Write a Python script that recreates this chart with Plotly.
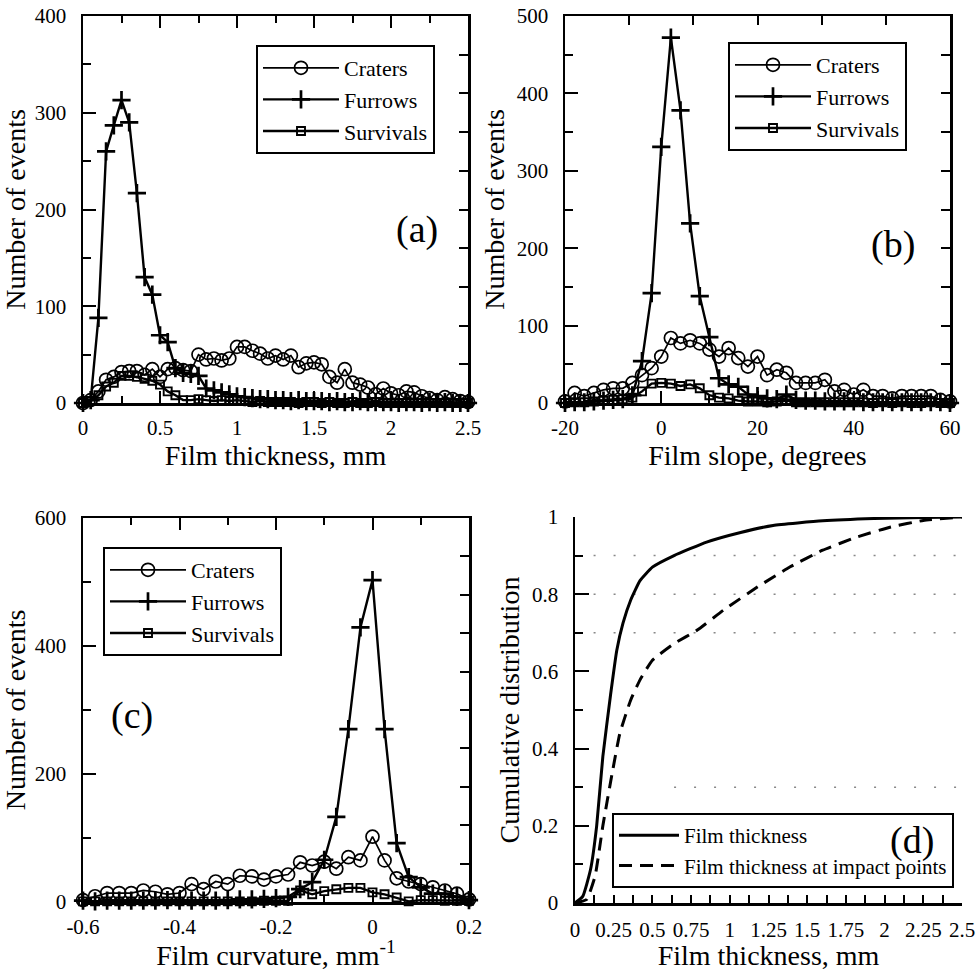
import plotly.graph_objects as go

# ---------------- data ----------------
thickness = [0, 0.05, 0.1, 0.15, 0.2, 0.25, 0.3, 0.35, 0.4, 0.45,
             0.5, 0.55, 0.6, 0.65, 0.7, 0.75, 0.8, 0.85, 0.9, 0.95,
             1.0, 1.05, 1.1, 1.15, 1.2, 1.25, 1.3, 1.35, 1.4, 1.45,
             1.5, 1.55, 1.6, 1.65, 1.7, 1.75, 1.8, 1.85, 1.9, 1.95,
             2.0, 2.05, 2.1, 2.15, 2.2, 2.25, 2.3, 2.35, 2.4, 2.45, 2.5]
craters_a = [0, 3, 12, 24, 27, 32, 33, 33, 29, 35,
             27, 35, 36, 34, 33, 50, 45, 46, 44, 46,
             58, 58, 54, 51, 46, 49, 45, 49, 37, 41,
             42, 40, 27, 21, 35, 21, 19, 16, 9, 15,
             10, 8, 12, 11, 7, 5, 3, 6, 4, 2, 1]
furrows_a = [0, 3, 88, 260, 287, 313, 290, 217, 130, 112,
             70, 63, 36, 31, 30, 28, 15, 13, 11, 9,
             7, 6, 5, 4, 4, 3, 3, 2, 3, 2,
             2, 2, 1, 2, 1, 1, 2, 1, 1, 1,
             1, 0, 1, 1, 0, 1, 0, 1, 0, 0, 0]
survivals_a = [0, 2, 8, 17, 21, 28, 28, 27, 25, 23,
               19, 12, 8, 3, 3, 4, 3, 2, 3, 2,
               3, 2, 1, 2, 1, 1, 1, 1, 0, 1,
               1, 0, 1, 0, 0, 1, 0, 0, 1, 0,
               0, 0, 0, 0, 0, 0, 0, 0, 0, 0, 0]

slope = [-20, -18, -16, -14, -12, -10, -8, -6, -4, -2,
         0, 2, 4, 6, 8, 10, 12, 14, 16, 18,
         20, 22, 24, 26, 28, 30, 32, 34, 36, 38,
         40, 42, 44, 46, 48, 50, 52, 54, 56, 58, 60]
craters_b = [2, 13, 9, 13, 17, 19, 19, 26, 36, 45,
             60, 84, 77, 81, 77, 69, 60, 71, 58, 47,
             60, 36, 43, 39, 26, 26, 26, 30, 15, 17,
             11, 17, 9, 9, 6, 9, 9, 9, 9, 4, 2]
furrows_b = [0, 1, 1, 2, 3, 4, 5, 10, 54, 142,
             331, 472, 378, 232, 138, 85, 32, 24, 21, 11,
             9, 6, 5, 11, 4, 3, 3, 2, 2, 2,
             2, 1, 1, 1, 1, 1, 1, 1, 1, 1, 0]
survivals_b = [0, 1, 1, 2, 3, 4, 5, 7, 15, 25,
               26, 25, 22, 24, 19, 10, 7, 6, 3, 2,
               2, 1, 2, 3, 1, 1, 1, 1, 1, 1,
               1, 1, 0, 1, 0, 1, 0, 0, 1, 0, 0]

curvature = [-0.6, -0.575, -0.55, -0.525, -0.5, -0.475, -0.45, -0.425, -0.4, -0.375,
             -0.35, -0.325, -0.3, -0.275, -0.25, -0.225, -0.2, -0.175, -0.15, -0.125,
             -0.1, -0.075, -0.05, -0.025, 0, 0.025, 0.05, 0.075, 0.1, 0.125,
             0.15, 0.175, 0.2]
craters_c = [3, 9, 14, 14, 14, 18, 16, 12, 14, 28,
             20, 32, 28, 41, 40, 35, 40, 43, 62, 57,
             63, 52, 70, 65, 102, 65, 37, 32, 28, 23,
             18, 13, 4]
furrows_c = [2, 1, 2, 2, 2, 2, 2, 3, 2, 2,
             2, 2, 3, 4, 4, 5, 6, 8, 20, 31,
             66, 133, 270, 429, 503, 270, 92, 39, 23, 13,
             13, 8, 3]
survivals_c = [1, 1, 1, 1, 1, 1, 1, 1, 1, 1,
               1, 1, 1, 1, 1, 2, 2, 2, 18, 12,
               17, 20, 22, 22, 15, 12, 7, 1, 3, 3,
               2, 2, 2]

cdf_x = [0, 0.05, 0.1, 0.14, 0.18, 0.23, 0.27, 0.31, 0.36, 0.42,
         0.5, 0.64, 0.85, 1.07, 1.28, 1.6, 1.93, 2.25, 2.5]
cdf_film = [0, 0.017, 0.086, 0.2, 0.38, 0.54, 0.655, 0.725, 0.785, 0.835,
            0.87, 0.90, 0.935, 0.96, 0.978, 0.99, 0.996, 0.999, 1.0]
cdf_impact_x = [0, 0.075, 0.13, 0.18, 0.24, 0.29, 0.36, 0.42, 0.5, 0.64,
                0.79, 0.96, 1.18, 1.39, 1.6, 1.82, 2.04, 2.25, 2.5]
cdf_impact = [0, 0.009, 0.07, 0.2, 0.336, 0.44, 0.526, 0.578, 0.629, 0.672,
              0.707, 0.759, 0.819, 0.871, 0.914, 0.948, 0.974, 0.991, 1.0]

slope_ticks = [-20, 0, 20, 40, 60]
slope_ticktext = ["-20", "0", "20", "40", "60"]
curv_ticks = [-0.6, -0.4, -0.2, 0, 0.2]
curv_ticktext = ["-0.6", "-0.4", "-0.2", "0", "0.2"]
series_names = ["Craters", "Furrows", "Survivals"]
cdf_names = ["Film thickness", "Film thickness at impact points"]
panel_labels = ["(a)", "(b)", "(c)", "(d)"]

# ---------------- figure ----------------
W, H = 976, 971
FONT = "Liberation Serif, Times New Roman, serif"


def px_x(p):
    return p / W


def px_y(p):
    return 1 - p / H


fig = go.Figure()

styles = [
    dict(symbol="circle-open", size=13, mlw=1.7, lw=1.7),
    dict(symbol="cross-thin-open", size=13, mlw=2.7, lw=2.4),
    dict(symbol="square-open", size=8, mlw=1.9, lw=2.4),
]


def add_hist(xs, ys_list, xa, ya, legend):
    for name, ys, st in zip(series_names, ys_list, styles):
        fig.add_trace(go.Scatter(
            x=xs, y=ys, name=name, mode="lines+markers",
            xaxis=xa, yaxis=ya, legend=legend, cliponaxis=False,
            line=dict(color="black", width=st["lw"]),
            marker=dict(symbol=st["symbol"], size=st["size"], color="black",
                        line=dict(color="black", width=st["mlw"])),
        ))


add_hist(thickness, [craters_a, furrows_a, survivals_a], "x", "y", "legend")
add_hist(slope, [craters_b, furrows_b, survivals_b], "x2", "y2", "legend2")
add_hist(curvature, [craters_c, furrows_c, survivals_c], "x3", "y3", "legend3")

fig.add_trace(go.Scatter(x=cdf_x, y=cdf_film, name=cdf_names[0], mode="lines",
                         xaxis="x4", yaxis="y4", legend="legend4", cliponaxis=False,
                         line=dict(color="black", width=3, shape="spline", smoothing=0.4)))
fig.add_trace(go.Scatter(x=cdf_impact_x, y=cdf_impact, name=cdf_names[1], mode="lines",
                         xaxis="x4", yaxis="y4", legend="legend4", cliponaxis=False,
                         line=dict(color="black", width=3, dash="13px,8px", shape="spline", smoothing=0.4)))

# empty traces that carry the top/right tick axes of panels (a)-(c)
for xa, ya in [("x5", "y"), ("x", "y5"), ("x6", "y2"), ("x2", "y6"), ("x7", "y3"), ("x3", "y7")]:
    fig.add_trace(go.Scatter(x=[], y=[], xaxis=xa, yaxis=ya, showlegend=False, hoverinfo="skip"))

LW = 2.5
tickfont = dict(family=FONT, size=21, color="black")
titlefont = dict(family=FONT, size=28, color="black")


def base_axis(**kw):
    d = dict(showline=True, linewidth=LW, linecolor="black", showgrid=False, zeroline=False,
             ticks="inside", tickwidth=2, tickcolor="black", tickfont=tickfont,
             fixedrange=True, automargin=False)
    d.update(kw)
    return d


def minor(dt, ln, t0=0):
    return dict(dtick=dt, tick0=t0, ticks="inside", ticklen=ln, tickwidth=2, tickcolor="black")


dom_a_x = [px_x(83), px_x(468)]
dom_b_x = [px_x(565), px_x(950)]
dom_c_x = [px_x(83), px_x(469)]
dom_d_x = [px_x(575), px_x(962)]
dom_top_y = [px_y(403), px_y(16)]
dom_c_y = [px_y(902), px_y(518)]
dom_d_y = [px_y(903), px_y(517)]

XLEN, XMIN = 12, 7
YLEN, YMIN = 13, 8

layout = dict(
    width=W, height=H, margin=dict(l=0, r=0, t=0, b=0, autoexpand=False),
    paper_bgcolor="white", plot_bgcolor="white",
    font=dict(family=FONT, color="black"),
    showlegend=True,
    # (a)
    xaxis=base_axis(domain=dom_a_x, anchor="y", range=[0, 2.5], tick0=0, dtick=0.5, ticklen=XLEN,
                    minor=minor(0.25, XMIN), ticklabelstandoff=4,
                    title=dict(text="Film thickness, mm", font=titlefont, standoff=2)),
    yaxis=base_axis(domain=dom_top_y, anchor="x", range=[0, 400], tick0=0, dtick=100, ticklen=YLEN,
                    minor=minor(50, YMIN), ticklabelstandoff=10,
                    title=dict(text="Number of events", font=titlefont, standoff=4)),
    xaxis5=base_axis(overlaying="x", side="top", anchor="y", range=[0, 2.5], tick0=0, dtick=0.5,
                     ticklen=XLEN, showticklabels=False, minor=minor(0.25, XMIN)),
    yaxis5=base_axis(overlaying="y", side="right", anchor="x", range=[0, 1], tick0=0, dtick=0.1,
                     ticklen=9, showticklabels=False),
    # (b)
    xaxis2=base_axis(domain=dom_b_x, anchor="y2", range=[-20, 60], tickvals=slope_ticks,
                     ticktext=slope_ticktext, ticklen=XLEN, minor=minor(10, XMIN), ticklabelstandoff=4,
                     title=dict(text="Film slope, degrees", font=titlefont, standoff=2)),
    yaxis2=base_axis(domain=dom_top_y, anchor="x2", range=[0, 500], tick0=0, dtick=100, ticklen=YLEN,
                     minor=minor(50, YMIN), ticklabelstandoff=10,
                     title=dict(text="Number of events", font=titlefont, standoff=4)),
    xaxis6=base_axis(overlaying="x2", side="top", anchor="y2", range=[0, 1], tick0=0, dtick=1 / 6,
                     ticklen=9, showticklabels=False),
    yaxis6=base_axis(overlaying="y2", side="right", anchor="x2", range=[0, 1], tick0=0, dtick=0.1,
                     ticklen=9, showticklabels=False),
    # (c)
    xaxis3=base_axis(domain=dom_c_x, anchor="y3", range=[-0.6, 0.2], tickvals=curv_ticks,
                     ticktext=curv_ticktext, ticklen=XLEN, minor=minor(0.1, XMIN), ticklabelstandoff=4,
                     title=dict(text="Film curvature, mm<sup>-1</sup>", font=titlefont, standoff=2)),
    yaxis3=base_axis(domain=dom_c_y, anchor="x3", range=[0, 600], tick0=0, dtick=200, ticklen=YLEN,
                     minor=minor(100, YMIN), ticklabelstandoff=10,
                     title=dict(text="Number of events", font=titlefont, standoff=4)),
    xaxis7=base_axis(overlaying="x3", side="top", anchor="y3", range=[-0.6, 0.2], tick0=0, dtick=0.2,
                     ticklen=XLEN, showticklabels=False, minor=minor(0.1, XMIN)),
    yaxis7=base_axis(overlaying="y3", side="right", anchor="x3", range=[0, 1], tick0=0, dtick=0.1,
                     ticklen=9, showticklabels=False),
    # (d)
    xaxis4=base_axis(domain=dom_d_x, anchor="y4", range=[0, 2.5], tick0=0, dtick=0.25, ticklen=8,
                     minor=minor(0.125, 8), ticklabelstandoff=6,
                     title=dict(text="Film thickness, mm", font=titlefont, standoff=2)),
    yaxis4=base_axis(domain=dom_d_y, anchor="x4", range=[0, 1], tick0=0, dtick=0.2, ticklen=14,
                     minor=minor(0.1, 8), ticklabelstandoff=10,
                     title=dict(text="Cumulative distribution", font=titlefont, standoff=4)),
)

legend_common = dict(bgcolor="white", bordercolor="black", borderwidth=2,
                     font=dict(family=FONT, size=22, color="black"),
                     xanchor="left", yanchor="top", tracegroupgap=0, itemwidth=76)
layout["legend"] = dict(legend_common, x=px_x(256), y=px_y(45))
layout["legend2"] = dict(legend_common, x=px_x(728), y=px_y(42))
layout["legend3"] = dict(legend_common, x=px_x(103), y=px_y(547))
layout["legend4"] = dict(legend_common, x=px_x(612), y=px_y(813), itemwidth=60,
                         font=dict(family=FONT, size=21, color="black"))

fig.update_layout(**layout)

# dotted horizontal guide lines in (d)
for yv, x0 in [(0.9, 0.12), (0.8, 0.12), (0.7, 0.12), (0.3, 0.64)]:
    fig.add_shape(type="line", xref="x4", yref="y4", x0=x0, x1=2.5, y0=yv, y1=yv,
                  line=dict(color="#888888", width=1.5, dash="2px,18px"), layer="below")

label_pos = [(417, 230), (893, 245), (132, 715), (912, 840)]
for txt, (px, py) in zip(panel_labels, label_pos):
    fig.add_annotation(text=txt, x=px_x(px), y=px_y(py), xref="paper", yref="paper",
                       showarrow=False, font=dict(family=FONT, size=38, color="black"),
                       xanchor="center", yanchor="middle")

fig.write_html("out.html", config={"displayModeBar": False, "staticPlot": True},
               post_script="document.body.style.margin='0px';document.body.style.overflow='hidden';")
